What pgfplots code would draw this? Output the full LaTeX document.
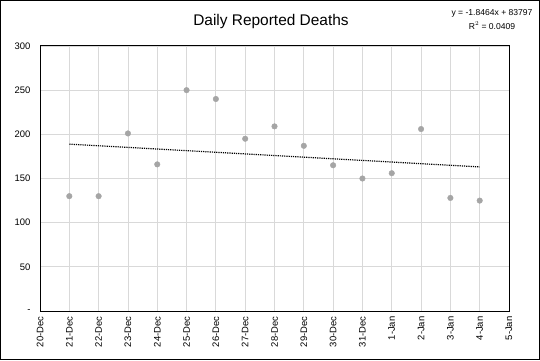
\documentclass[border=0pt]{standalone}
\usepackage{pgfplots}
\pgfplotsset{compat=1.18}
\usepackage{fontspec}
\setmainfont{Liberation Sans}
\definecolor{gridc}{HTML}{D9D9D9}
\definecolor{ptc}{HTML}{A5A5A5}
\begin{document}
\begin{tikzpicture}[x=1bp,y=1bp]
\useasboundingbox (0,0) rectangle (540,360);
\draw[black, line width=1bp] (0.5,0.5) rectangle (539.5,359.5);
\begin{axis}[
  at={(40bp,49bp)}, anchor=south west,
  scale only axis, width=469bp, height=265bp,
  xmin=0, xmax=16, ymin=0, ymax=300,
  xtick={0,...,16},
  xticklabels={20-Dec,21-Dec,22-Dec,23-Dec,24-Dec,25-Dec,26-Dec,27-Dec,28-Dec,29-Dec,30-Dec,31-Dec,1-Jan,2-Jan,3-Jan,4-Jan,5-Jan},
  x tick label style={rotate=90, anchor=east, font=\fontsize{9.5}{11}\selectfont},
  ytick={0,50,100,150,200,250,300},
  yticklabels={-,50,100,150,200,250,300},
  y tick label style={font=\fontsize{9.5}{11}\selectfont},
  yticklabel shift=6bp,
  xticklabel shift=2bp,
  major tick length=0pt,
  xmajorgrids, ymajorgrids,
  grid style={gridc, line width=0.8bp},
  axis line style={black, line width=1bp},
  /pgf/number format/assume math mode=true,
  clip=false,
]
\addplot[only marks, mark=*, mark size=2.8bp, mark options={draw=ptc, fill=ptc}] coordinates {
(1,130) (2,130) (3,201) (4,166) (5,250) (6,240) (7,195) (8,209) (9,187) (10,165) (11,150) (12,156) (13,206) (14,128) (15,125)
};
\addplot[black, densely dotted, line width=1.2bp] coordinates {(1,188.9) (15,163.1)};
\end{axis}
\node[font=\fontsize{15.5}{18}\selectfont] at (271,338) {Daily Reported Deaths};
\node[font=\fontsize{8.6}{10}\selectfont] at (492,347) {y = -1.8464x + 83797};
\node[font=\fontsize{8.6}{10}\selectfont] at (492,334) {R$^2$ = 0.0409};
\end{tikzpicture}
\end{document}
